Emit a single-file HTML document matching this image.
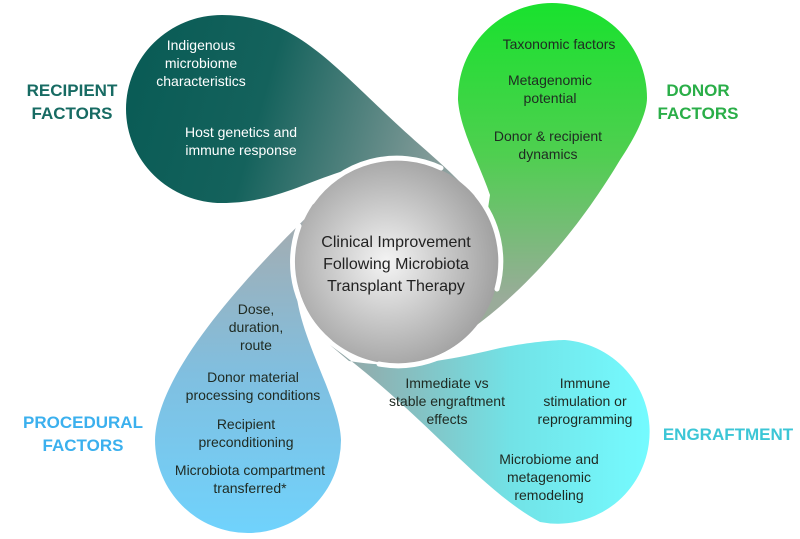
<!DOCTYPE html>
<html><head><meta charset="utf-8"><style>
html,body{margin:0;padding:0;background:#fff;}
svg{display:block;}
text{font-family:"Liberation Sans","DejaVu Sans",sans-serif;}
</style></head><body>
<svg width="800" height="539" viewBox="0 0 800 539" xmlns="http://www.w3.org/2000/svg">
<defs>
<linearGradient id="gTL" gradientUnits="userSpaceOnUse" x1="130" y1="100" x2="480" y2="200">
<stop offset="0" stop-color="#0a5c56"/><stop offset="0.35" stop-color="#14625c"/><stop offset="1" stop-color="#a5adac"/></linearGradient>
<linearGradient id="gTR" gradientUnits="userSpaceOnUse" x1="0" y1="10" x2="0" y2="300">
<stop offset="0" stop-color="#1be12f"/><stop offset="0.5" stop-color="#4fcf50"/><stop offset="1" stop-color="#9aab9a"/></linearGradient>
<linearGradient id="gBR" gradientUnits="userSpaceOnUse" x1="650" y1="0" x2="340" y2="0">
<stop offset="0" stop-color="#74fbff"/><stop offset="0.45" stop-color="#72e2e6"/><stop offset="1" stop-color="#94a6a6"/></linearGradient>
<linearGradient id="gBL" gradientUnits="userSpaceOnUse" x1="0" y1="530" x2="0" y2="220">
<stop offset="0" stop-color="#70d2fc"/><stop offset="0.5" stop-color="#80bfe0"/><stop offset="1" stop-color="#a4acb0"/></linearGradient>
<radialGradient id="gC" cx="0.45" cy="0.5" r="0.6">
<stop offset="0" stop-color="#f4f4f4"/><stop offset="0.55" stop-color="#c2c2c2"/><stop offset="1" stop-color="#999"/></radialGradient>
</defs>
<path d="M222,203 A96,94 0 0 1 222,15 C300,15 340,75 420,145 C460,180 480,200 492,225 L470,240 L450,175 C420,160 380,160 340,172 C300,185 270,203 222,203 Z" fill="url(#gTL)"/>
<path d="M552,3 A95,95 0 0 0 458,100 C460,130 480,165 490,195 L470,330 C540,280 590,210 620,160 C640,130 647,110 647,98 A95,95 0 0 0 552,3 Z" fill="url(#gTR)"/>
<path d="M349,361 C400,370 450,360 500,348 C530,342 555,340 565,340 A92,92 0 1 1 540,522 C480,490 420,410 330,345 Z" fill="url(#gBR)"/>
<path d="M340,185 C250,270 157,370 155,440 A93,93 0 0 0 341,440 C340,400 300,340 296,290 Z" fill="url(#gBL)"/>
<circle cx="397" cy="262" r="102" fill="url(#gC)"/>
<g fill="none" stroke="#fff" stroke-width="5" stroke-linecap="round">
<path d="M312,202 A104,104 0 0 1 441,168"/>
<path d="M477,195 A104,104 0 0 1 497,289"/>
<path d="M471,336 A104,104 0 0 1 379,364"/>
<path d="M330,342 A104,104 0 0 1 299,226"/>
</g>
<g font-size="17" font-weight="bold" text-anchor="middle">
<text x="72" y="96" fill="#176b63">RECIPIENT</text><text x="72" y="119" fill="#176b63">FACTORS</text>
<text x="698" y="96" fill="#2aae48">DONOR</text><text x="698" y="119" fill="#2aae48">FACTORS</text>
<text x="83" y="428" fill="#3bb0ee">PROCEDURAL</text><text x="83" y="451" fill="#3bb0ee">FACTORS</text>
<text x="728" y="440" fill="#3cc6d6">ENGRAFTMENT</text>
</g>
<g font-size="14" fill="#fff" text-anchor="middle">
<text x="201" y="50">Indigenous</text><text x="201" y="68">microbiome</text><text x="201" y="86">characteristics</text>
<text x="241" y="137">Host genetics and</text><text x="241" y="155">immune response</text>
</g>
<g font-size="14" fill="#1f2a22" text-anchor="middle">
<text x="559" y="49">Taxonomic factors</text>
<text x="550" y="85">Metagenomic</text><text x="550" y="103">potential</text>
<text x="548" y="141">Donor &amp; recipient</text><text x="548" y="159">dynamics</text>
<text x="447" y="388">Immediate vs</text><text x="447" y="406">stable engraftment</text><text x="447" y="424">effects</text>
<text x="585" y="388">Immune</text><text x="585" y="406">stimulation or</text><text x="585" y="424">reprogramming</text>
<text x="549" y="464">Microbiome and</text><text x="549" y="482">metagenomic</text><text x="549" y="500">remodeling</text>
<text x="256" y="314">Dose,</text><text x="256" y="332">duration,</text><text x="256" y="350">route</text>
<text x="253" y="382">Donor material</text><text x="253" y="400">processing conditions</text>
<text x="246" y="429">Recipient</text><text x="246" y="447">preconditioning</text>
<text x="250" y="475">Microbiota compartment</text><text x="250" y="493">transferred*</text>
</g>
<g font-size="16" fill="#222" text-anchor="middle">
<text x="396" y="247">Clinical Improvement</text>
<text x="396" y="269">Following Microbiota</text>
<text x="396" y="291">Transplant Therapy</text>
</g>
</svg>
</body></html>
